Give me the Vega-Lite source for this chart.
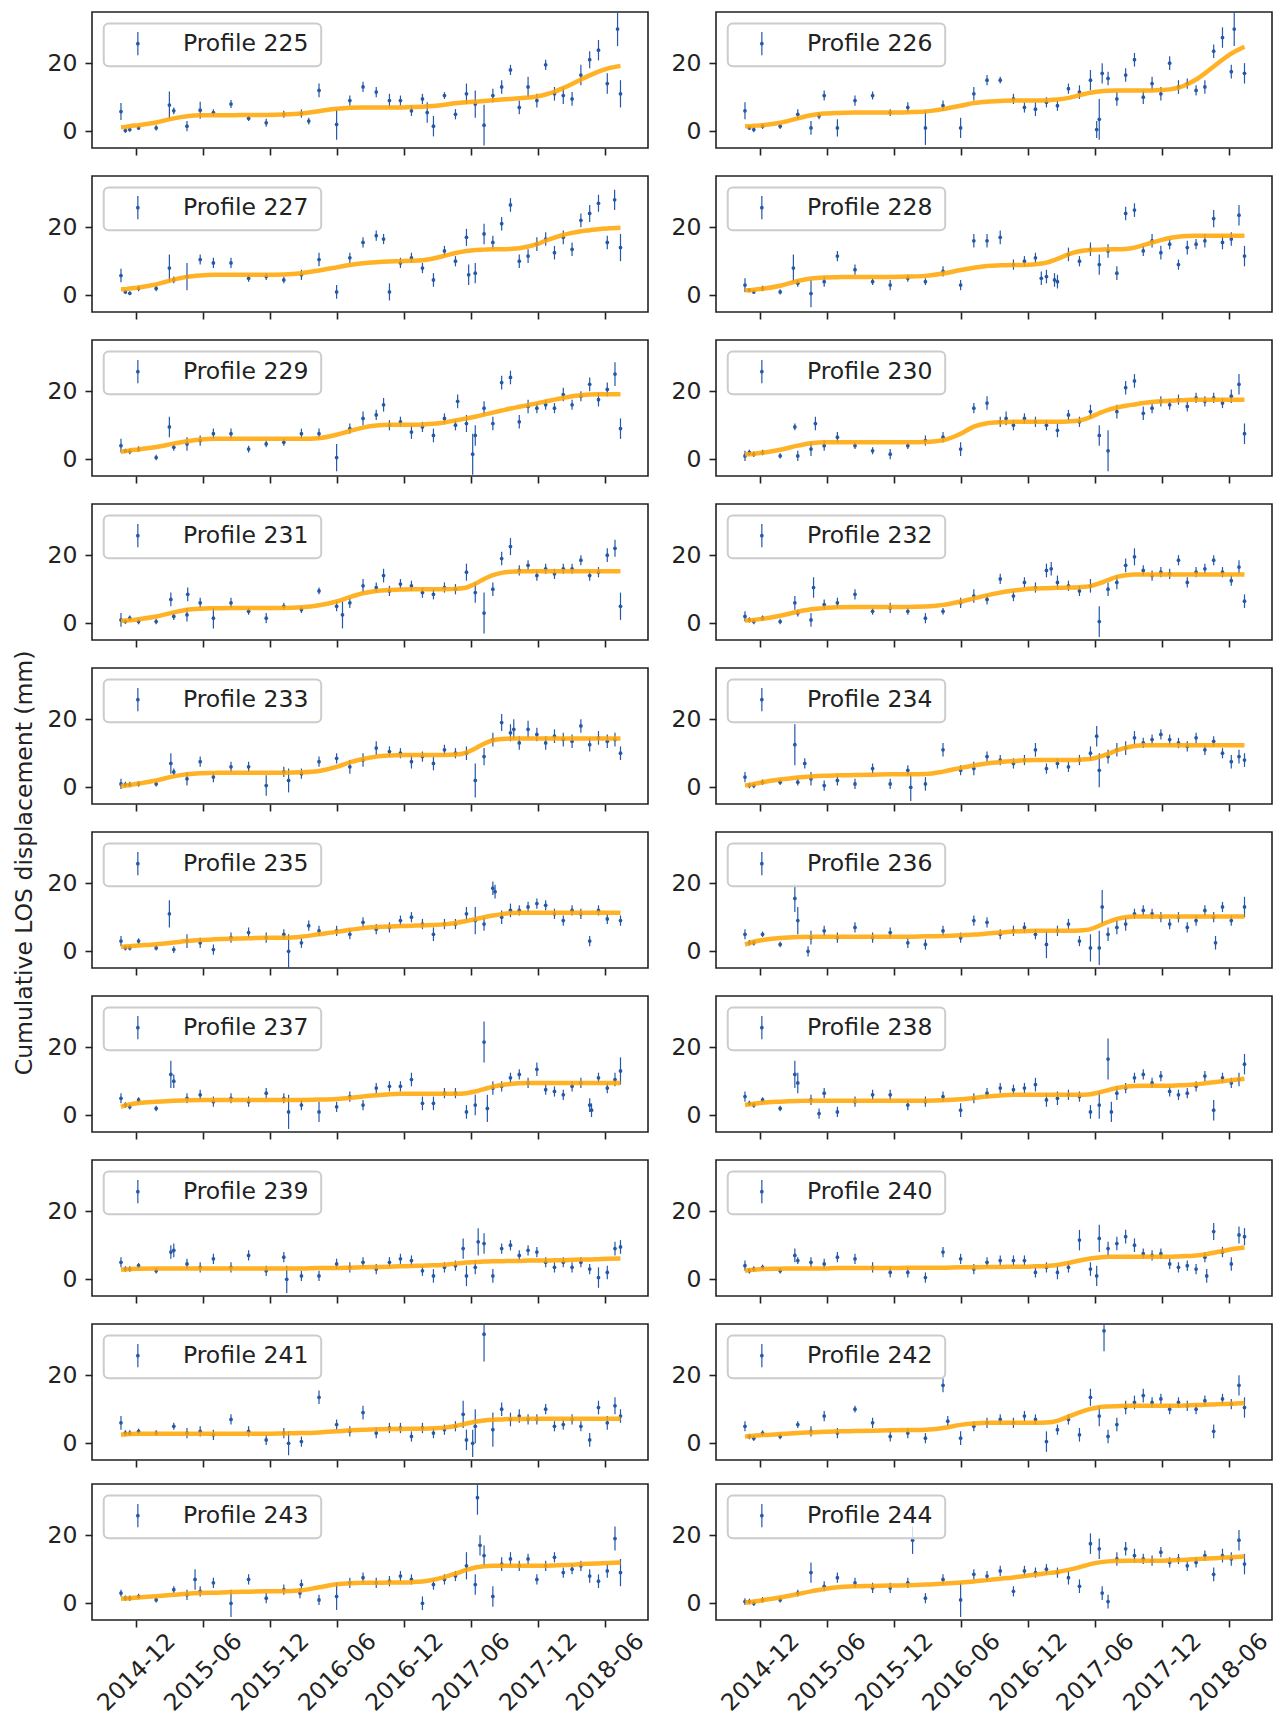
{
"$schema":"https://vega.github.io/schema/vega-lite/v6.json",
"background":"white",
"padding":{"left":12,"top":10,"right":0,"bottom":0},
"title":{"text":"Cumulative LOS displacement (mm)","orient":"left","anchor":"middle","fontSize":23.5,"fontWeight":"normal","font":"DejaVu Sans","color":"#222222","offset":10},
"datasets":{
"names":[{"p":225,"n":"Profile 225"},{"p":226,"n":"Profile 226"},{"p":227,"n":"Profile 227"},{"p":228,"n":"Profile 228"},{"p":229,"n":"Profile 229"},{"p":230,"n":"Profile 230"},{"p":231,"n":"Profile 231"},{"p":232,"n":"Profile 232"},{"p":233,"n":"Profile 233"},{"p":234,"n":"Profile 234"},{"p":235,"n":"Profile 235"},{"p":236,"n":"Profile 236"},{"p":237,"n":"Profile 237"},{"p":238,"n":"Profile 238"},{"p":239,"n":"Profile 239"},{"p":240,"n":"Profile 240"},{"p":241,"n":"Profile 241"},{"p":242,"n":"Profile 242"},{"p":243,"n":"Profile 243"},{"p":244,"n":"Profile 244"}],
"pts":[
{"p":225,"d":"2014-10-20","v":5.8,"e":2.5,"f":1.2},{"p":225,"d":"2014-11-01","v":0.2,"e":0.6,"f":1.3},{"p":225,"d":"2014-11-13","v":0.5,"e":0.6,"f":1.5},{"p":225,"d":"2014-12-07","v":1,"e":0.6,"f":1.8},{"p":225,"d":"2015-01-24","v":1,"e":0.8,"f":2.6},{"p":225,"d":"2015-03-13","v":6,"e":1,"f":3.8},{"p":225,"d":"2015-04-18","v":1.5,"e":1.5,"f":4.4},{"p":225,"d":"2015-05-24","v":6.2,"e":2.5,"f":4.7},{"p":225,"d":"2015-06-29","v":5.5,"e":1,"f":4.7},{"p":225,"d":"2015-08-16","v":8,"e":1.2,"f":4.7},{"p":225,"d":"2015-10-03","v":3.8,"e":0.8,"f":4.8},{"p":225,"d":"2015-11-20","v":2.5,"e":1.2,"f":4.8},{"p":225,"d":"2016-01-07","v":5,"e":1,"f":4.9},{"p":225,"d":"2016-02-24","v":5.2,"e":1.2,"f":5.2},{"p":225,"d":"2016-04-12","v":12,"e":2,"f":5.9},{"p":225,"d":"2016-05-30","v":2,"e":4.5,"f":6.6},{"p":225,"d":"2016-07-05","v":9,"e":1.5,"f":6.9},{"p":225,"d":"2016-08-10","v":13,"e":1.5,"f":7},{"p":225,"d":"2016-09-15","v":11.5,"e":1.5,"f":7},{"p":225,"d":"2016-10-21","v":9,"e":2,"f":7},{"p":225,"d":"2016-11-20","v":9,"e":1.5,"f":7},{"p":225,"d":"2016-12-20","v":6,"e":1.5,"f":7.1},{"p":225,"d":"2017-01-19","v":9.5,"e":1.5,"f":7.2},{"p":225,"d":"2017-02-18","v":1.5,"e":3,"f":7.4},{"p":225,"d":"2017-03-20","v":10.5,"e":1,"f":7.8},{"p":225,"d":"2017-04-19","v":5,"e":1.5,"f":8.2},{"p":225,"d":"2017-05-19","v":11,"e":3,"f":8.5},{"p":225,"d":"2017-06-12","v":8,"e":4,"f":8.7},{"p":225,"d":"2017-07-06","v":1.8,"e":6,"f":8.9},{"p":225,"d":"2017-07-30","v":10.5,"e":2,"f":9.1},{"p":225,"d":"2017-08-23","v":13,"e":2,"f":9.3},{"p":225,"d":"2017-09-16","v":18,"e":1.5,"f":9.5},{"p":225,"d":"2017-10-10","v":7,"e":2,"f":9.7},{"p":225,"d":"2017-11-03","v":13,"e":3,"f":9.9},{"p":225,"d":"2017-11-27","v":9,"e":2,"f":10.2},{"p":225,"d":"2017-12-21","v":19.5,"e":1.5,"f":10.8},{"p":225,"d":"2018-01-14","v":11,"e":2,"f":11.6},{"p":225,"d":"2018-02-07","v":10.5,"e":2.5,"f":12.7},{"p":225,"d":"2018-03-03","v":9.5,"e":2,"f":13.9},{"p":225,"d":"2018-03-27","v":16.5,"e":3,"f":15.2},{"p":225,"d":"2018-04-20","v":21,"e":2.5,"f":16.4},{"p":225,"d":"2018-05-14","v":23.8,"e":3,"f":17.5},{"p":225,"d":"2018-06-07","v":14,"e":3,"f":18.4},{"p":225,"d":"2018-07-13","v":11,"e":4,"f":19.2},
{"p":225,"d":"2018-07-05","v":30,"e":5},{"p":225,"d":"2015-03-01","v":7.7,"e":4},{"p":225,"d":"2016-03-15","v":3,"e":1},{"p":225,"d":"2017-02-01","v":5.5,"e":3},
{"p":226,"d":"2014-10-20","v":6,"e":2.5,"f":1.5},{"p":226,"d":"2014-11-01","v":1,"e":0.6,"f":1.5},{"p":226,"d":"2014-11-13","v":0.5,"e":0.8,"f":1.6},{"p":226,"d":"2014-12-07","v":1.5,"e":0.8,"f":1.8},{"p":226,"d":"2015-01-24","v":1.5,"e":0.8,"f":2.5},{"p":226,"d":"2015-03-13","v":5,"e":1.5,"f":3.8},{"p":226,"d":"2015-04-18","v":1,"e":2,"f":4.7},{"p":226,"d":"2015-05-24","v":10.5,"e":1.5,"f":5.2},{"p":226,"d":"2015-06-29","v":1,"e":2.5,"f":5.4},{"p":226,"d":"2015-08-16","v":9,"e":1.5,"f":5.5},{"p":226,"d":"2015-10-03","v":10.5,"e":1.2,"f":5.5},{"p":226,"d":"2015-11-20","v":5.5,"e":1,"f":5.5},{"p":226,"d":"2016-01-07","v":7,"e":1.5,"f":5.6},{"p":226,"d":"2016-02-24","v":1,"e":5,"f":5.8},{"p":226,"d":"2016-04-12","v":7.5,"e":1.5,"f":6.5},{"p":226,"d":"2016-05-30","v":1,"e":3,"f":7.5},{"p":226,"d":"2016-07-05","v":11,"e":2,"f":8.3},{"p":226,"d":"2016-08-10","v":15,"e":1.5,"f":8.7},{"p":226,"d":"2016-09-15","v":15,"e":1,"f":8.9},{"p":226,"d":"2016-10-21","v":9.5,"e":1.5,"f":9},{"p":226,"d":"2016-11-20","v":7,"e":1.5,"f":9},{"p":226,"d":"2016-12-20","v":6.5,"e":2,"f":9},{"p":226,"d":"2017-01-19","v":8.5,"e":1.5,"f":9.1},{"p":226,"d":"2017-02-18","v":7.5,"e":1.5,"f":9.3},{"p":226,"d":"2017-03-20","v":12.5,"e":1.5,"f":9.8},{"p":226,"d":"2017-04-19","v":11.5,"e":2,"f":10.6},{"p":226,"d":"2017-05-19","v":15,"e":3,"f":11.3},{"p":226,"d":"2017-06-12","v":3.5,"e":6,"f":11.7},{"p":226,"d":"2017-07-06","v":15.5,"e":2,"f":11.9},{"p":226,"d":"2017-07-30","v":9.5,"e":2,"f":12},{"p":226,"d":"2017-08-23","v":16.5,"e":2,"f":12},{"p":226,"d":"2017-09-16","v":21,"e":2,"f":12},{"p":226,"d":"2017-10-10","v":10,"e":2,"f":12},{"p":226,"d":"2017-11-03","v":14,"e":2,"f":12},{"p":226,"d":"2017-11-27","v":11,"e":2,"f":12.1},{"p":226,"d":"2017-12-21","v":20,"e":2,"f":12.3},{"p":226,"d":"2018-01-14","v":13,"e":2,"f":12.8},{"p":226,"d":"2018-02-07","v":14,"e":1.5,"f":13.8},{"p":226,"d":"2018-03-03","v":12,"e":1.5,"f":15.2},{"p":226,"d":"2018-03-27","v":13,"e":2,"f":17},{"p":226,"d":"2018-04-20","v":23.5,"e":2,"f":19},{"p":226,"d":"2018-05-14","v":27.5,"e":3,"f":21},{"p":226,"d":"2018-06-07","v":17.5,"e":2,"f":22.8},{"p":226,"d":"2018-07-13","v":17,"e":3,"f":24.8},
{"p":226,"d":"2017-06-05","v":0.5,"e":2.5},{"p":226,"d":"2017-06-20","v":17,"e":3},{"p":226,"d":"2018-06-15","v":30,"e":5},{"p":226,"d":"2015-05-10","v":4.5,"e":1},
{"p":227,"d":"2014-10-20","v":5.8,"e":2,"f":1.8},{"p":227,"d":"2014-11-01","v":1,"e":0.6,"f":1.8},{"p":227,"d":"2014-11-13","v":0.6,"e":0.6,"f":2},{"p":227,"d":"2014-12-07","v":2,"e":0.8,"f":2.3},{"p":227,"d":"2015-01-24","v":2,"e":0.8,"f":3.2},{"p":227,"d":"2015-03-13","v":4.5,"e":1,"f":4.6},{"p":227,"d":"2015-04-18","v":5.5,"e":4,"f":5.4},{"p":227,"d":"2015-05-24","v":10.5,"e":1.5,"f":5.8},{"p":227,"d":"2015-06-29","v":9.5,"e":1.5,"f":6},{"p":227,"d":"2015-08-16","v":9.5,"e":1.5,"f":6},{"p":227,"d":"2015-10-03","v":5,"e":1,"f":6},{"p":227,"d":"2015-11-20","v":5.5,"e":1,"f":6},{"p":227,"d":"2016-01-07","v":4.5,"e":1,"f":6.1},{"p":227,"d":"2016-02-24","v":6,"e":1.5,"f":6.5},{"p":227,"d":"2016-04-12","v":10.5,"e":2,"f":7.3},{"p":227,"d":"2016-05-30","v":1,"e":2,"f":8.2},{"p":227,"d":"2016-07-05","v":11,"e":1.5,"f":8.9},{"p":227,"d":"2016-08-10","v":15.5,"e":1.5,"f":9.4},{"p":227,"d":"2016-09-15","v":17.5,"e":1.5,"f":9.7},{"p":227,"d":"2016-10-21","v":1,"e":2.5,"f":9.9},{"p":227,"d":"2016-11-20","v":9.5,"e":1.5,"f":10},{"p":227,"d":"2016-12-20","v":11,"e":1.5,"f":10.1},{"p":227,"d":"2017-01-19","v":8,"e":1.5,"f":10.3},{"p":227,"d":"2017-02-18","v":4.5,"e":2,"f":10.8},{"p":227,"d":"2017-03-20","v":13,"e":1.5,"f":11.6},{"p":227,"d":"2017-04-19","v":10,"e":1.5,"f":12.4},{"p":227,"d":"2017-05-19","v":17,"e":2.5,"f":13},{"p":227,"d":"2017-06-12","v":6.5,"e":3,"f":13.3},{"p":227,"d":"2017-07-06","v":18,"e":3,"f":13.4},{"p":227,"d":"2017-07-30","v":15.5,"e":2,"f":13.5},{"p":227,"d":"2017-08-23","v":21,"e":2,"f":13.5},{"p":227,"d":"2017-09-16","v":26.5,"e":2,"f":13.6},{"p":227,"d":"2017-10-10","v":10,"e":2,"f":13.8},{"p":227,"d":"2017-11-03","v":11.5,"e":2,"f":14.3},{"p":227,"d":"2017-11-27","v":15,"e":2,"f":15},{"p":227,"d":"2017-12-21","v":16.5,"e":2,"f":16},{"p":227,"d":"2018-01-14","v":12.5,"e":2,"f":16.9},{"p":227,"d":"2018-02-07","v":17,"e":2,"f":17.7},{"p":227,"d":"2018-03-03","v":13.5,"e":2,"f":18.3},{"p":227,"d":"2018-03-27","v":22,"e":2,"f":18.8},{"p":227,"d":"2018-04-20","v":24,"e":2.5,"f":19.1},{"p":227,"d":"2018-05-14","v":27,"e":2.5,"f":19.4},{"p":227,"d":"2018-06-07","v":15.5,"e":2,"f":19.6},{"p":227,"d":"2018-07-13","v":14,"e":4,"f":19.8},
{"p":227,"d":"2018-06-27","v":28,"e":3},{"p":227,"d":"2017-05-25","v":6,"e":3},{"p":227,"d":"2016-10-05","v":16.5,"e":1.5},{"p":227,"d":"2015-03-01","v":8,"e":4},
{"p":228,"d":"2014-10-20","v":3,"e":2,"f":1.5},{"p":228,"d":"2014-11-01","v":1.5,"e":0.6,"f":1.5},{"p":228,"d":"2014-11-13","v":1,"e":0.6,"f":1.6},{"p":228,"d":"2014-12-07","v":2,"e":0.8,"f":1.9},{"p":228,"d":"2015-01-24","v":1,"e":0.8,"f":2.8},{"p":228,"d":"2015-03-13","v":3.5,"e":1,"f":4.2},{"p":228,"d":"2015-04-18","v":0.5,"e":4,"f":4.9},{"p":228,"d":"2015-05-24","v":4,"e":1.5,"f":5.2},{"p":228,"d":"2015-06-29","v":11.5,"e":1.5,"f":5.3},{"p":228,"d":"2015-08-16","v":7.5,"e":1.5,"f":5.4},{"p":228,"d":"2015-10-03","v":4,"e":1,"f":5.4},{"p":228,"d":"2015-11-20","v":3,"e":1.5,"f":5.4},{"p":228,"d":"2016-01-07","v":5,"e":1,"f":5.5},{"p":228,"d":"2016-02-24","v":4,"e":1,"f":5.7},{"p":228,"d":"2016-04-12","v":7,"e":1.5,"f":6.4},{"p":228,"d":"2016-05-30","v":3,"e":1.5,"f":7.4},{"p":228,"d":"2016-07-05","v":16,"e":2,"f":8.1},{"p":228,"d":"2016-08-10","v":16,"e":2,"f":8.6},{"p":228,"d":"2016-09-15","v":17,"e":2,"f":8.8},{"p":228,"d":"2016-10-21","v":9,"e":1.5,"f":8.9},{"p":228,"d":"2016-11-20","v":10,"e":1.5,"f":8.9},{"p":228,"d":"2016-12-20","v":11,"e":1.5,"f":9.1},{"p":228,"d":"2017-01-19","v":5.5,"e":2,"f":9.6},{"p":228,"d":"2017-02-18","v":4,"e":2,"f":10.7},{"p":228,"d":"2017-03-20","v":12,"e":2,"f":12},{"p":228,"d":"2017-04-19","v":10,"e":1.5,"f":12.9},{"p":228,"d":"2017-05-19","v":13.5,"e":2,"f":13.3},{"p":228,"d":"2017-06-12","v":9,"e":3,"f":13.4},{"p":228,"d":"2017-07-06","v":13,"e":2,"f":13.5},{"p":228,"d":"2017-07-30","v":6.5,"e":2,"f":13.5},{"p":228,"d":"2017-08-23","v":24,"e":2,"f":13.6},{"p":228,"d":"2017-09-16","v":25,"e":2,"f":14},{"p":228,"d":"2017-10-10","v":13,"e":1.5,"f":14.7},{"p":228,"d":"2017-11-03","v":16,"e":2,"f":15.5},{"p":228,"d":"2017-11-27","v":12.5,"e":2,"f":16.2},{"p":228,"d":"2017-12-21","v":15,"e":1.5,"f":16.8},{"p":228,"d":"2018-01-14","v":9,"e":1.5,"f":17.2},{"p":228,"d":"2018-02-07","v":14,"e":2,"f":17.4},{"p":228,"d":"2018-03-03","v":15,"e":1.5,"f":17.5},{"p":228,"d":"2018-03-27","v":16,"e":2,"f":17.5},{"p":228,"d":"2018-04-20","v":22.5,"e":2.5,"f":17.5},{"p":228,"d":"2018-05-14","v":15.5,"e":2,"f":17.5},{"p":228,"d":"2018-06-07","v":16.5,"e":2,"f":17.5},{"p":228,"d":"2018-07-13","v":11.5,"e":3,"f":17.5},
{"p":228,"d":"2018-06-28","v":23.5,"e":3},{"p":228,"d":"2017-02-10","v":4.5,"e":2},{"p":228,"d":"2015-03-01","v":8,"e":4},{"p":228,"d":"2017-01-05","v":5,"e":2},
{"p":229,"d":"2014-10-20","v":4,"e":2,"f":2.2},{"p":229,"d":"2014-11-01","v":2.5,"e":0.6,"f":2.4},{"p":229,"d":"2014-11-13","v":2.3,"e":0.8,"f":2.6},{"p":229,"d":"2014-12-07","v":3,"e":0.8,"f":2.9},{"p":229,"d":"2015-01-24","v":0.5,"e":0.8,"f":3.6},{"p":229,"d":"2015-03-13","v":3.5,"e":1,"f":4.6},{"p":229,"d":"2015-04-18","v":4.5,"e":2,"f":5.3},{"p":229,"d":"2015-05-24","v":5.5,"e":1.5,"f":5.8},{"p":229,"d":"2015-06-29","v":7.5,"e":1.5,"f":6},{"p":229,"d":"2015-08-16","v":7.5,"e":1.5,"f":6},{"p":229,"d":"2015-10-03","v":3,"e":1,"f":6},{"p":229,"d":"2015-11-20","v":4.5,"e":1,"f":6},{"p":229,"d":"2016-01-07","v":5,"e":1,"f":6},{"p":229,"d":"2016-02-24","v":7.5,"e":1.5,"f":6},{"p":229,"d":"2016-04-12","v":7.5,"e":1.5,"f":6.2},{"p":229,"d":"2016-05-30","v":0.5,"e":4,"f":7.2},{"p":229,"d":"2016-07-05","v":9,"e":1.5,"f":8.3},{"p":229,"d":"2016-08-10","v":12,"e":2,"f":9.3},{"p":229,"d":"2016-09-15","v":13,"e":1.5,"f":9.9},{"p":229,"d":"2016-10-21","v":10,"e":1.5,"f":10.1},{"p":229,"d":"2016-11-20","v":11,"e":1.5,"f":10.1},{"p":229,"d":"2016-12-20","v":8,"e":2,"f":10.1},{"p":229,"d":"2017-01-19","v":9.5,"e":1.5,"f":10.2},{"p":229,"d":"2017-02-18","v":7,"e":2,"f":10.4},{"p":229,"d":"2017-03-20","v":12,"e":1.5,"f":10.8},{"p":229,"d":"2017-04-19","v":10,"e":1.5,"f":11.4},{"p":229,"d":"2017-05-19","v":10.5,"e":2.5,"f":12},{"p":229,"d":"2017-06-12","v":7,"e":3,"f":12.5},{"p":229,"d":"2017-07-06","v":15,"e":2,"f":13.1},{"p":229,"d":"2017-07-30","v":10.5,"e":2,"f":13.7},{"p":229,"d":"2017-08-23","v":22.5,"e":2,"f":14.3},{"p":229,"d":"2017-09-16","v":24,"e":2,"f":14.9},{"p":229,"d":"2017-10-10","v":11,"e":2,"f":15.4},{"p":229,"d":"2017-11-03","v":15.5,"e":2,"f":15.9},{"p":229,"d":"2017-11-27","v":15,"e":1.5,"f":16.4},{"p":229,"d":"2017-12-21","v":16,"e":1.5,"f":17},{"p":229,"d":"2018-01-14","v":15,"e":1.5,"f":17.5},{"p":229,"d":"2018-02-07","v":19,"e":2,"f":18},{"p":229,"d":"2018-03-03","v":16,"e":1.5,"f":18.5},{"p":229,"d":"2018-03-27","v":18.5,"e":1.5,"f":18.8},{"p":229,"d":"2018-04-20","v":22,"e":2,"f":19},{"p":229,"d":"2018-05-14","v":17.5,"e":2,"f":19.1},{"p":229,"d":"2018-06-07","v":20.5,"e":2,"f":19.1},{"p":229,"d":"2018-07-13","v":9,"e":3,"f":19.1},
{"p":229,"d":"2018-06-28","v":25,"e":3.5},{"p":229,"d":"2017-06-05","v":1.5,"e":6},{"p":229,"d":"2015-03-01","v":9.5,"e":3},{"p":229,"d":"2016-10-05","v":16,"e":2},{"p":229,"d":"2017-04-25","v":17,"e":2},
{"p":230,"d":"2014-10-20","v":1,"e":1.5,"f":1.5},{"p":230,"d":"2014-11-01","v":2,"e":0.8,"f":1.5},{"p":230,"d":"2014-11-13","v":1.5,"e":0.8,"f":1.6},{"p":230,"d":"2014-12-07","v":2,"e":0.8,"f":1.9},{"p":230,"d":"2015-01-24","v":1,"e":0.8,"f":2.8},{"p":230,"d":"2015-03-13","v":1,"e":1.5,"f":4},{"p":230,"d":"2015-04-18","v":3,"e":2,"f":4.7},{"p":230,"d":"2015-05-24","v":4,"e":1.5,"f":5},{"p":230,"d":"2015-06-29","v":6.5,"e":1.5,"f":5},{"p":230,"d":"2015-08-16","v":4,"e":1,"f":5},{"p":230,"d":"2015-10-03","v":2.5,"e":1,"f":5},{"p":230,"d":"2015-11-20","v":1.5,"e":1.5,"f":5},{"p":230,"d":"2016-01-07","v":4,"e":1,"f":5},{"p":230,"d":"2016-02-24","v":5.5,"e":1.5,"f":5.1},{"p":230,"d":"2016-04-12","v":6.5,"e":1.5,"f":5.6},{"p":230,"d":"2016-05-30","v":3,"e":2,"f":7.5},{"p":230,"d":"2016-07-05","v":15,"e":1.5,"f":9.6},{"p":230,"d":"2016-08-10","v":16.5,"e":2,"f":10.6},{"p":230,"d":"2016-09-15","v":11,"e":1.5,"f":10.9},{"p":230,"d":"2016-10-21","v":10,"e":1.5,"f":11},{"p":230,"d":"2016-11-20","v":12,"e":1.5,"f":11},{"p":230,"d":"2016-12-20","v":11,"e":1.5,"f":11},{"p":230,"d":"2017-01-19","v":10,"e":1.5,"f":11},{"p":230,"d":"2017-02-18","v":8.5,"e":2,"f":11},{"p":230,"d":"2017-03-20","v":13,"e":1.5,"f":11.1},{"p":230,"d":"2017-04-19","v":11,"e":1.5,"f":11.4},{"p":230,"d":"2017-05-19","v":14,"e":2,"f":12.4},{"p":230,"d":"2017-06-12","v":7,"e":3,"f":13.5},{"p":230,"d":"2017-07-06","v":2.5,"e":6,"f":14.5},{"p":230,"d":"2017-07-30","v":14,"e":2,"f":15.2},{"p":230,"d":"2017-08-23","v":21,"e":2,"f":15.7},{"p":230,"d":"2017-09-16","v":23,"e":2,"f":16.1},{"p":230,"d":"2017-10-10","v":13.5,"e":2,"f":16.5},{"p":230,"d":"2017-11-03","v":15,"e":1.5,"f":16.8},{"p":230,"d":"2017-11-27","v":17,"e":1.5,"f":17},{"p":230,"d":"2017-12-21","v":16,"e":1.5,"f":17.2},{"p":230,"d":"2018-01-14","v":17.5,"e":1.5,"f":17.3},{"p":230,"d":"2018-02-07","v":15.5,"e":1.5,"f":17.4},{"p":230,"d":"2018-03-03","v":18,"e":1.5,"f":17.5},{"p":230,"d":"2018-03-27","v":17,"e":1.5,"f":17.5},{"p":230,"d":"2018-04-20","v":18,"e":1.5,"f":17.5},{"p":230,"d":"2018-05-14","v":16.5,"e":1.5,"f":17.5},{"p":230,"d":"2018-06-07","v":18.5,"e":2,"f":17.5},{"p":230,"d":"2018-07-13","v":7.5,"e":3,"f":17.5},
{"p":230,"d":"2018-06-28","v":22,"e":3},{"p":230,"d":"2015-03-05","v":9.5,"e":1},{"p":230,"d":"2015-04-30","v":10.5,"e":2},{"p":230,"d":"2016-10-01","v":12,"e":2},
{"p":231,"d":"2014-10-20","v":1,"e":2,"f":0.7},{"p":231,"d":"2014-11-01","v":0.5,"e":0.6,"f":0.8},{"p":231,"d":"2014-11-13","v":1.5,"e":0.8,"f":0.9},{"p":231,"d":"2014-12-07","v":0.5,"e":0.8,"f":1.2},{"p":231,"d":"2015-01-24","v":0.5,"e":0.8,"f":2},{"p":231,"d":"2015-03-13","v":2,"e":1,"f":3.2},{"p":231,"d":"2015-04-18","v":2.5,"e":2,"f":4},{"p":231,"d":"2015-05-24","v":6,"e":1.5,"f":4.3},{"p":231,"d":"2015-06-29","v":1.5,"e":3,"f":4.4},{"p":231,"d":"2015-08-16","v":6,"e":1.5,"f":4.5},{"p":231,"d":"2015-10-03","v":3.5,"e":1,"f":4.5},{"p":231,"d":"2015-11-20","v":1.5,"e":1.5,"f":4.5},{"p":231,"d":"2016-01-07","v":5,"e":1,"f":4.5},{"p":231,"d":"2016-02-24","v":4,"e":1,"f":4.7},{"p":231,"d":"2016-04-12","v":9.5,"e":1,"f":5.3},{"p":231,"d":"2016-05-30","v":5,"e":1.5,"f":6.4},{"p":231,"d":"2016-07-05","v":6,"e":1.5,"f":7.7},{"p":231,"d":"2016-08-10","v":11,"e":2,"f":8.8},{"p":231,"d":"2016-09-15","v":10.5,"e":1.5,"f":9.5},{"p":231,"d":"2016-10-21","v":9.5,"e":1.5,"f":9.8},{"p":231,"d":"2016-11-20","v":11.5,"e":1.5,"f":9.9},{"p":231,"d":"2016-12-20","v":11,"e":1.5,"f":10},{"p":231,"d":"2017-01-19","v":9,"e":1.5,"f":10},{"p":231,"d":"2017-02-18","v":8.5,"e":1.5,"f":10},{"p":231,"d":"2017-03-20","v":10.5,"e":1.5,"f":10},{"p":231,"d":"2017-04-19","v":10,"e":1.5,"f":10.1},{"p":231,"d":"2017-05-19","v":15,"e":2.5,"f":10.5},{"p":231,"d":"2017-06-12","v":9,"e":3,"f":11.6},{"p":231,"d":"2017-07-06","v":3,"e":6,"f":13},{"p":231,"d":"2017-07-30","v":10,"e":2,"f":14.1},{"p":231,"d":"2017-08-23","v":19,"e":2,"f":14.8},{"p":231,"d":"2017-09-16","v":22.5,"e":2.5,"f":15.1},{"p":231,"d":"2017-10-10","v":15.5,"e":1.5,"f":15.2},{"p":231,"d":"2017-11-03","v":17,"e":1.5,"f":15.3},{"p":231,"d":"2017-11-27","v":14,"e":1.5,"f":15.3},{"p":231,"d":"2017-12-21","v":16,"e":1.5,"f":15.3},{"p":231,"d":"2018-01-14","v":14.5,"e":1.5,"f":15.3},{"p":231,"d":"2018-02-07","v":16,"e":1.5,"f":15.3},{"p":231,"d":"2018-03-03","v":16,"e":1.5,"f":15.3},{"p":231,"d":"2018-03-27","v":18.5,"e":1.5,"f":15.3},{"p":231,"d":"2018-04-20","v":14,"e":1.5,"f":15.3},{"p":231,"d":"2018-05-14","v":15,"e":1.5,"f":15.3},{"p":231,"d":"2018-06-07","v":20,"e":2,"f":15.3},{"p":231,"d":"2018-07-13","v":5,"e":4,"f":15.3},
{"p":231,"d":"2018-06-28","v":22,"e":2.5},{"p":231,"d":"2015-03-05","v":7,"e":2},{"p":231,"d":"2015-04-20","v":8.5,"e":2},{"p":231,"d":"2016-10-05","v":14,"e":2},{"p":231,"d":"2016-06-15","v":2.5,"e":4},
{"p":232,"d":"2014-10-20","v":2,"e":1.5,"f":0.8},{"p":232,"d":"2014-11-01","v":1,"e":0.8,"f":0.9},{"p":232,"d":"2014-11-13","v":0.5,"e":0.8,"f":1},{"p":232,"d":"2014-12-07","v":1.5,"e":0.8,"f":1.3},{"p":232,"d":"2015-01-24","v":0.5,"e":0.8,"f":2.2},{"p":232,"d":"2015-03-13","v":3,"e":1,"f":3.4},{"p":232,"d":"2015-04-18","v":1,"e":2,"f":4.1},{"p":232,"d":"2015-05-24","v":5.5,"e":1.5,"f":4.5},{"p":232,"d":"2015-06-29","v":6,"e":1.5,"f":4.7},{"p":232,"d":"2015-08-16","v":8.5,"e":1.5,"f":4.8},{"p":232,"d":"2015-10-03","v":3.5,"e":1,"f":4.8},{"p":232,"d":"2015-11-20","v":4.5,"e":1.5,"f":4.8},{"p":232,"d":"2016-01-07","v":3.5,"e":1,"f":4.8},{"p":232,"d":"2016-02-24","v":1.5,"e":1.5,"f":4.9},{"p":232,"d":"2016-04-12","v":3.5,"e":1,"f":5.4},{"p":232,"d":"2016-05-30","v":6,"e":1.5,"f":6.4},{"p":232,"d":"2016-07-05","v":8,"e":2,"f":7.3},{"p":232,"d":"2016-08-10","v":7,"e":1.5,"f":8.2},{"p":232,"d":"2016-09-15","v":13,"e":1.5,"f":9},{"p":232,"d":"2016-10-21","v":8,"e":1.5,"f":9.6},{"p":232,"d":"2016-11-20","v":12,"e":1.5,"f":10},{"p":232,"d":"2016-12-20","v":10.5,"e":1.5,"f":10.2},{"p":232,"d":"2017-01-19","v":15.5,"e":2,"f":10.3},{"p":232,"d":"2017-02-18","v":12,"e":2,"f":10.4},{"p":232,"d":"2017-03-20","v":11,"e":1.5,"f":10.5},{"p":232,"d":"2017-04-19","v":9.5,"e":1.5,"f":10.6},{"p":232,"d":"2017-05-19","v":11,"e":2,"f":10.9},{"p":232,"d":"2017-06-12","v":0.5,"e":4.5,"f":11.7},{"p":232,"d":"2017-07-06","v":10,"e":2,"f":12.7},{"p":232,"d":"2017-07-30","v":12,"e":2,"f":13.6},{"p":232,"d":"2017-08-23","v":17,"e":2,"f":14.1},{"p":232,"d":"2017-09-16","v":19.5,"e":2.5,"f":14.3},{"p":232,"d":"2017-10-10","v":15.5,"e":1.5,"f":14.3},{"p":232,"d":"2017-11-03","v":14,"e":1.5,"f":14.3},{"p":232,"d":"2017-11-27","v":15,"e":1.5,"f":14.3},{"p":232,"d":"2017-12-21","v":14.5,"e":1.5,"f":14.3},{"p":232,"d":"2018-01-14","v":18.5,"e":1.5,"f":14.3},{"p":232,"d":"2018-02-07","v":12,"e":1.5,"f":14.3},{"p":232,"d":"2018-03-03","v":15,"e":1.5,"f":14.3},{"p":232,"d":"2018-03-27","v":16,"e":1.5,"f":14.3},{"p":232,"d":"2018-04-20","v":18.5,"e":1.5,"f":14.3},{"p":232,"d":"2018-05-14","v":15,"e":1.5,"f":14.3},{"p":232,"d":"2018-06-07","v":12.5,"e":1.5,"f":14.3},{"p":232,"d":"2018-07-13","v":6.5,"e":2,"f":14.3},
{"p":232,"d":"2018-06-28","v":16.5,"e":2},{"p":232,"d":"2015-03-05","v":6,"e":2},{"p":232,"d":"2015-04-25","v":10.5,"e":3},{"p":232,"d":"2017-02-01","v":16,"e":2},
{"p":233,"d":"2014-10-20","v":1,"e":1.5,"f":0.3},{"p":233,"d":"2014-11-01","v":0.8,"e":0.8,"f":0.5},{"p":233,"d":"2014-11-13","v":0.8,"e":0.8,"f":0.7},{"p":233,"d":"2014-12-07","v":1,"e":0.8,"f":1.1},{"p":233,"d":"2015-01-24","v":1,"e":0.8,"f":2},{"p":233,"d":"2015-03-13","v":4.5,"e":1,"f":3.2},{"p":233,"d":"2015-04-18","v":2.5,"e":2,"f":3.8},{"p":233,"d":"2015-05-24","v":7.5,"e":1.5,"f":4.1},{"p":233,"d":"2015-06-29","v":3,"e":1.5,"f":4.2},{"p":233,"d":"2015-08-16","v":6,"e":1.5,"f":4.3},{"p":233,"d":"2015-10-03","v":6,"e":1.5,"f":4.3},{"p":233,"d":"2015-11-20","v":0.5,"e":3,"f":4.3},{"p":233,"d":"2016-01-07","v":4.5,"e":1.5,"f":4.3},{"p":233,"d":"2016-02-24","v":4,"e":1.5,"f":4.4},{"p":233,"d":"2016-04-12","v":7.5,"e":1.5,"f":4.8},{"p":233,"d":"2016-05-30","v":8.5,"e":1.5,"f":6},{"p":233,"d":"2016-07-05","v":6,"e":2,"f":7.3},{"p":233,"d":"2016-08-10","v":8,"e":2,"f":8.3},{"p":233,"d":"2016-09-15","v":11.5,"e":2,"f":9},{"p":233,"d":"2016-10-21","v":10.5,"e":1.5,"f":9.3},{"p":233,"d":"2016-11-20","v":10,"e":1.5,"f":9.4},{"p":233,"d":"2016-12-20","v":7.5,"e":2,"f":9.5},{"p":233,"d":"2017-01-19","v":9,"e":1.5,"f":9.5},{"p":233,"d":"2017-02-18","v":7,"e":2,"f":9.5},{"p":233,"d":"2017-03-20","v":11,"e":1.5,"f":9.5},{"p":233,"d":"2017-04-19","v":10,"e":1.5,"f":9.6},{"p":233,"d":"2017-05-19","v":10,"e":2,"f":10.2},{"p":233,"d":"2017-06-12","v":2,"e":5,"f":11.4},{"p":233,"d":"2017-07-06","v":9,"e":2.5,"f":12.8},{"p":233,"d":"2017-07-30","v":14,"e":2,"f":13.8},{"p":233,"d":"2017-08-23","v":19,"e":2.5,"f":14.2},{"p":233,"d":"2017-09-16","v":16,"e":2.5,"f":14.3},{"p":233,"d":"2017-10-10","v":13,"e":2,"f":14.3},{"p":233,"d":"2017-11-03","v":17,"e":2.5,"f":14.3},{"p":233,"d":"2017-11-27","v":15.5,"e":2,"f":14.3},{"p":233,"d":"2017-12-21","v":13,"e":2,"f":14.3},{"p":233,"d":"2018-01-14","v":15,"e":2,"f":14.3},{"p":233,"d":"2018-02-07","v":14,"e":2,"f":14.3},{"p":233,"d":"2018-03-03","v":13.5,"e":2,"f":14.3},{"p":233,"d":"2018-03-27","v":18,"e":2,"f":14.3},{"p":233,"d":"2018-04-20","v":12.5,"e":2,"f":14.3},{"p":233,"d":"2018-05-14","v":14.5,"e":2,"f":14.3},{"p":233,"d":"2018-06-07","v":13.5,"e":2,"f":14.3},{"p":233,"d":"2018-07-13","v":10,"e":2,"f":14.3},
{"p":233,"d":"2015-03-05","v":7,"e":3},{"p":233,"d":"2016-01-20","v":2,"e":3.5},{"p":233,"d":"2018-06-28","v":14,"e":2},{"p":233,"d":"2017-09-25","v":17,"e":3},
{"p":234,"d":"2014-10-20","v":3,"e":1.5,"f":0.5},{"p":234,"d":"2014-11-01","v":0.5,"e":0.8,"f":0.7},{"p":234,"d":"2014-11-13","v":0.5,"e":0.8,"f":1},{"p":234,"d":"2014-12-07","v":1.5,"e":0.8,"f":1.5},{"p":234,"d":"2015-01-24","v":1.5,"e":0.8,"f":2.3},{"p":234,"d":"2015-03-13","v":1.5,"e":1,"f":2.9},{"p":234,"d":"2015-04-18","v":2.5,"e":2,"f":3.2},{"p":234,"d":"2015-05-24","v":0.5,"e":1.5,"f":3.4},{"p":234,"d":"2015-06-29","v":2,"e":1.5,"f":3.5},{"p":234,"d":"2015-08-16","v":1,"e":1.5,"f":3.6},{"p":234,"d":"2015-10-03","v":5.5,"e":1.5,"f":3.7},{"p":234,"d":"2015-11-20","v":1,"e":1.5,"f":3.8},{"p":234,"d":"2016-01-07","v":5,"e":1.5,"f":3.8},{"p":234,"d":"2016-02-24","v":1,"e":2,"f":3.9},{"p":234,"d":"2016-04-12","v":11,"e":2,"f":4.6},{"p":234,"d":"2016-05-30","v":5,"e":1.5,"f":5.7},{"p":234,"d":"2016-07-05","v":5.5,"e":2,"f":6.4},{"p":234,"d":"2016-08-10","v":9,"e":1.5,"f":7},{"p":234,"d":"2016-09-15","v":8,"e":1.5,"f":7.4},{"p":234,"d":"2016-10-21","v":7,"e":1.5,"f":7.7},{"p":234,"d":"2016-11-20","v":8,"e":1.5,"f":7.9},{"p":234,"d":"2016-12-20","v":11,"e":2,"f":8},{"p":234,"d":"2017-01-19","v":5.5,"e":1.5,"f":8},{"p":234,"d":"2017-02-18","v":7,"e":1.5,"f":8},{"p":234,"d":"2017-03-20","v":6,"e":1.5,"f":8},{"p":234,"d":"2017-04-19","v":8,"e":1.5,"f":8.1},{"p":234,"d":"2017-05-19","v":10,"e":2,"f":8.3},{"p":234,"d":"2017-06-12","v":5,"e":5,"f":8.9},{"p":234,"d":"2017-07-06","v":9,"e":2,"f":9.8},{"p":234,"d":"2017-07-30","v":11,"e":2,"f":10.8},{"p":234,"d":"2017-08-23","v":11.5,"e":2,"f":11.6},{"p":234,"d":"2017-09-16","v":14.5,"e":2,"f":12.1},{"p":234,"d":"2017-10-10","v":13,"e":1.5,"f":12.3},{"p":234,"d":"2017-11-03","v":14,"e":1.5,"f":12.3},{"p":234,"d":"2017-11-27","v":15.5,"e":1.5,"f":12.3},{"p":234,"d":"2017-12-21","v":14,"e":1.5,"f":12.3},{"p":234,"d":"2018-01-14","v":13,"e":1.5,"f":12.3},{"p":234,"d":"2018-02-07","v":12,"e":1.5,"f":12.3},{"p":234,"d":"2018-03-03","v":14.5,"e":1.5,"f":12.3},{"p":234,"d":"2018-03-27","v":11,"e":1.5,"f":12.3},{"p":234,"d":"2018-04-20","v":13.5,"e":1.5,"f":12.3},{"p":234,"d":"2018-05-14","v":10,"e":1.5,"f":12.3},{"p":234,"d":"2018-06-07","v":7.5,"e":2,"f":12.3},{"p":234,"d":"2018-07-13","v":8,"e":2,"f":12.3},
{"p":234,"d":"2015-03-05","v":12.5,"e":6},{"p":234,"d":"2015-04-01","v":7,"e":1.5},{"p":234,"d":"2017-06-05","v":15,"e":3},{"p":234,"d":"2016-01-15","v":0,"e":4},{"p":234,"d":"2018-06-28","v":9,"e":2},
{"p":235,"d":"2014-10-20","v":3,"e":1.5,"f":1.3},{"p":235,"d":"2014-11-01","v":1,"e":0.8,"f":1.4},{"p":235,"d":"2014-11-13","v":1,"e":0.8,"f":1.5},{"p":235,"d":"2014-12-07","v":3,"e":0.8,"f":1.7},{"p":235,"d":"2015-01-24","v":1,"e":0.8,"f":2.1},{"p":235,"d":"2015-03-13","v":0.5,"e":1,"f":2.6},{"p":235,"d":"2015-04-18","v":3,"e":2,"f":3},{"p":235,"d":"2015-05-24","v":2.5,"e":1.5,"f":3.3},{"p":235,"d":"2015-06-29","v":0.5,"e":1.5,"f":3.5},{"p":235,"d":"2015-08-16","v":4,"e":1.5,"f":3.7},{"p":235,"d":"2015-10-03","v":5.5,"e":1.5,"f":3.8},{"p":235,"d":"2015-11-20","v":4,"e":1.5,"f":4},{"p":235,"d":"2016-01-07","v":5,"e":1.5,"f":4},{"p":235,"d":"2016-02-24","v":2.5,"e":1.5,"f":4.3},{"p":235,"d":"2016-04-12","v":6,"e":1.5,"f":5},{"p":235,"d":"2016-05-30","v":6,"e":1.5,"f":5.7},{"p":235,"d":"2016-07-05","v":5,"e":1.5,"f":6.3},{"p":235,"d":"2016-08-10","v":8.5,"e":1.5,"f":6.8},{"p":235,"d":"2016-09-15","v":6.5,"e":1.5,"f":7.1},{"p":235,"d":"2016-10-21","v":7,"e":1.5,"f":7.3},{"p":235,"d":"2016-11-20","v":9,"e":1.5,"f":7.4},{"p":235,"d":"2016-12-20","v":10,"e":1.5,"f":7.5},{"p":235,"d":"2017-01-19","v":8,"e":1.5,"f":7.6},{"p":235,"d":"2017-02-18","v":5,"e":2,"f":7.7},{"p":235,"d":"2017-03-20","v":8,"e":1.5,"f":7.9},{"p":235,"d":"2017-04-19","v":8,"e":1.5,"f":8.3},{"p":235,"d":"2017-05-19","v":11,"e":2,"f":8.9},{"p":235,"d":"2017-06-12","v":9,"e":4,"f":9.4},{"p":235,"d":"2017-07-06","v":8,"e":2,"f":10},{"p":235,"d":"2017-07-30","v":18.5,"e":2,"f":10.5},{"p":235,"d":"2017-08-23","v":10,"e":2,"f":10.9},{"p":235,"d":"2017-09-16","v":12,"e":2,"f":11.2},{"p":235,"d":"2017-10-10","v":12,"e":1.5,"f":11.3},{"p":235,"d":"2017-11-03","v":13,"e":1.5,"f":11.3},{"p":235,"d":"2017-11-27","v":14,"e":1.5,"f":11.3},{"p":235,"d":"2017-12-21","v":13.5,"e":1.5,"f":11.3},{"p":235,"d":"2018-01-14","v":11,"e":1.5,"f":11.3},{"p":235,"d":"2018-02-07","v":9,"e":1.5,"f":11.3},{"p":235,"d":"2018-03-03","v":12,"e":1.5,"f":11.3},{"p":235,"d":"2018-03-27","v":11,"e":1.5,"f":11.3},{"p":235,"d":"2018-04-20","v":3,"e":1.5,"f":11.3},{"p":235,"d":"2018-05-14","v":12,"e":1.5,"f":11.3},{"p":235,"d":"2018-06-07","v":9.5,"e":1.5,"f":11.3},{"p":235,"d":"2018-07-13","v":9,"e":1.5,"f":11.3},
{"p":235,"d":"2015-03-01","v":11,"e":4},{"p":235,"d":"2016-01-20","v":0,"e":5},{"p":235,"d":"2017-08-05","v":17.5,"e":2},{"p":235,"d":"2016-03-15","v":7.5,"e":1.5},
{"p":236,"d":"2014-10-20","v":5,"e":1.5,"f":2},{"p":236,"d":"2014-11-01","v":2.5,"e":0.8,"f":2.4},{"p":236,"d":"2014-11-13","v":2.5,"e":0.8,"f":2.8},{"p":236,"d":"2014-12-07","v":5,"e":0.8,"f":3.3},{"p":236,"d":"2015-01-24","v":2,"e":0.8,"f":3.9},{"p":236,"d":"2015-03-13","v":9,"e":4,"f":4.2},{"p":236,"d":"2015-04-18","v":4,"e":2,"f":4.3},{"p":236,"d":"2015-05-24","v":6,"e":1.5,"f":4.3},{"p":236,"d":"2015-06-29","v":4,"e":1.5,"f":4.3},{"p":236,"d":"2015-08-16","v":7,"e":1.5,"f":4.3},{"p":236,"d":"2015-10-03","v":4,"e":1.5,"f":4.3},{"p":236,"d":"2015-11-20","v":5.5,"e":1.5,"f":4.3},{"p":236,"d":"2016-01-07","v":2.5,"e":1.5,"f":4.3},{"p":236,"d":"2016-02-24","v":2,"e":1.5,"f":4.4},{"p":236,"d":"2016-04-12","v":6,"e":1.5,"f":4.5},{"p":236,"d":"2016-05-30","v":4,"e":1.5,"f":4.7},{"p":236,"d":"2016-07-05","v":9,"e":1.5,"f":4.9},{"p":236,"d":"2016-08-10","v":8.5,"e":1.5,"f":5.2},{"p":236,"d":"2016-09-15","v":5,"e":1.5,"f":5.5},{"p":236,"d":"2016-10-21","v":6,"e":1.5,"f":5.8},{"p":236,"d":"2016-11-20","v":7,"e":1.5,"f":5.9},{"p":236,"d":"2016-12-20","v":5,"e":1.5,"f":6},{"p":236,"d":"2017-01-19","v":2,"e":4,"f":6},{"p":236,"d":"2017-02-18","v":6,"e":1.5,"f":6},{"p":236,"d":"2017-03-20","v":8,"e":1.5,"f":6},{"p":236,"d":"2017-04-19","v":3,"e":1.5,"f":6.1},{"p":236,"d":"2017-05-19","v":1,"e":4,"f":6.5},{"p":236,"d":"2017-06-12","v":1,"e":5,"f":7.5},{"p":236,"d":"2017-07-06","v":5,"e":2,"f":8.6},{"p":236,"d":"2017-07-30","v":7,"e":2,"f":9.5},{"p":236,"d":"2017-08-23","v":8,"e":2,"f":10},{"p":236,"d":"2017-09-16","v":11,"e":1.5,"f":10.2},{"p":236,"d":"2017-10-10","v":12,"e":1.5,"f":10.2},{"p":236,"d":"2017-11-03","v":11,"e":1.5,"f":10.2},{"p":236,"d":"2017-11-27","v":10,"e":1.5,"f":10.2},{"p":236,"d":"2017-12-21","v":8,"e":1.5,"f":10.2},{"p":236,"d":"2018-01-14","v":10,"e":1.5,"f":10.2},{"p":236,"d":"2018-02-07","v":7,"e":1.5,"f":10.2},{"p":236,"d":"2018-03-03","v":9,"e":1.5,"f":10.2},{"p":236,"d":"2018-03-27","v":12,"e":1.5,"f":10.2},{"p":236,"d":"2018-04-20","v":10,"e":1.5,"f":10.2},{"p":236,"d":"2018-05-14","v":13,"e":1.5,"f":10.2},{"p":236,"d":"2018-06-07","v":9,"e":1.5,"f":10.2},{"p":236,"d":"2018-07-13","v":13,"e":3,"f":10.2},
{"p":236,"d":"2015-03-05","v":15.5,"e":4},{"p":236,"d":"2015-04-10","v":0,"e":1.5},{"p":236,"d":"2018-04-25","v":2.5,"e":2},{"p":236,"d":"2017-06-20","v":13,"e":5},
{"p":237,"d":"2014-10-20","v":5,"e":1.5,"f":2.5},{"p":237,"d":"2014-11-01","v":3,"e":0.8,"f":2.9},{"p":237,"d":"2014-11-13","v":2.5,"e":0.8,"f":3.2},{"p":237,"d":"2014-12-07","v":4.5,"e":0.8,"f":3.6},{"p":237,"d":"2015-01-24","v":2,"e":0.8,"f":4},{"p":237,"d":"2015-03-13","v":10,"e":2,"f":4.3},{"p":237,"d":"2015-04-18","v":5,"e":1.5,"f":4.4},{"p":237,"d":"2015-05-24","v":6,"e":1.5,"f":4.5},{"p":237,"d":"2015-06-29","v":4,"e":1.5,"f":4.5},{"p":237,"d":"2015-08-16","v":5,"e":1.5,"f":4.5},{"p":237,"d":"2015-10-03","v":4,"e":1.5,"f":4.5},{"p":237,"d":"2015-11-20","v":6.5,"e":1.5,"f":4.5},{"p":237,"d":"2016-01-07","v":5,"e":1.5,"f":4.5},{"p":237,"d":"2016-02-24","v":3,"e":1.5,"f":4.5},{"p":237,"d":"2016-04-12","v":1,"e":3,"f":4.6},{"p":237,"d":"2016-05-30","v":2.5,"e":1.5,"f":4.8},{"p":237,"d":"2016-07-05","v":5.5,"e":1.5,"f":5.1},{"p":237,"d":"2016-08-10","v":3,"e":1.5,"f":5.5},{"p":237,"d":"2016-09-15","v":8,"e":1.5,"f":5.9},{"p":237,"d":"2016-10-21","v":8.5,"e":1.5,"f":6.2},{"p":237,"d":"2016-11-20","v":8.5,"e":1.5,"f":6.3},{"p":237,"d":"2016-12-20","v":10.5,"e":2,"f":6.3},{"p":237,"d":"2017-01-19","v":3.5,"e":2,"f":6.3},{"p":237,"d":"2017-02-18","v":3.5,"e":2,"f":6.3},{"p":237,"d":"2017-03-20","v":6.5,"e":1.5,"f":6.3},{"p":237,"d":"2017-04-19","v":6.5,"e":1.5,"f":6.3},{"p":237,"d":"2017-05-19","v":1,"e":2,"f":6.5},{"p":237,"d":"2017-06-12","v":3,"e":3,"f":7},{"p":237,"d":"2017-07-06","v":21.5,"e":6,"f":7.7},{"p":237,"d":"2017-07-30","v":8,"e":2,"f":8.4},{"p":237,"d":"2017-08-23","v":8.5,"e":1.5,"f":8.9},{"p":237,"d":"2017-09-16","v":11,"e":1.5,"f":9.2},{"p":237,"d":"2017-10-10","v":12,"e":1.5,"f":9.4},{"p":237,"d":"2017-11-03","v":9.5,"e":1.5,"f":9.5},{"p":237,"d":"2017-11-27","v":13.5,"e":2,"f":9.5},{"p":237,"d":"2017-12-21","v":7.5,"e":1.5,"f":9.5},{"p":237,"d":"2018-01-14","v":7,"e":1.5,"f":9.5},{"p":237,"d":"2018-02-07","v":6,"e":1.5,"f":9.5},{"p":237,"d":"2018-03-03","v":8.5,"e":1.5,"f":9.5},{"p":237,"d":"2018-03-27","v":9.5,"e":1.5,"f":9.5},{"p":237,"d":"2018-04-20","v":3,"e":2,"f":9.5},{"p":237,"d":"2018-05-14","v":11,"e":1.5,"f":9.5},{"p":237,"d":"2018-06-07","v":8,"e":1.5,"f":9.5},{"p":237,"d":"2018-07-13","v":13,"e":4,"f":9.5},
{"p":237,"d":"2015-03-05","v":12,"e":4},{"p":237,"d":"2016-01-20","v":1,"e":5},{"p":237,"d":"2017-07-15","v":2,"e":4},{"p":237,"d":"2018-04-25","v":1.5,"e":2},{"p":237,"d":"2018-06-28","v":10.5,"e":2},
{"p":238,"d":"2014-10-20","v":5.5,"e":1.5,"f":3},{"p":238,"d":"2014-11-01","v":3.5,"e":0.8,"f":3.2},{"p":238,"d":"2014-11-13","v":3,"e":0.8,"f":3.4},{"p":238,"d":"2014-12-07","v":4.5,"e":0.8,"f":3.7},{"p":238,"d":"2015-01-24","v":2,"e":0.8,"f":4},{"p":238,"d":"2015-03-13","v":9.5,"e":3,"f":4.2},{"p":238,"d":"2015-04-18","v":4.5,"e":1.5,"f":4.3},{"p":238,"d":"2015-05-24","v":6.5,"e":1.5,"f":4.3},{"p":238,"d":"2015-06-29","v":1,"e":1.5,"f":4.3},{"p":238,"d":"2015-08-16","v":4,"e":1.5,"f":4.3},{"p":238,"d":"2015-10-03","v":6,"e":1.5,"f":4.3},{"p":238,"d":"2015-11-20","v":6,"e":1.5,"f":4.3},{"p":238,"d":"2016-01-07","v":3,"e":1.5,"f":4.3},{"p":238,"d":"2016-02-24","v":4,"e":1.5,"f":4.3},{"p":238,"d":"2016-04-12","v":5.5,"e":1.5,"f":4.4},{"p":238,"d":"2016-05-30","v":1.5,"e":2,"f":4.7},{"p":238,"d":"2016-07-05","v":5,"e":1.5,"f":5.1},{"p":238,"d":"2016-08-10","v":6.5,"e":1.5,"f":5.5},{"p":238,"d":"2016-09-15","v":8,"e":1.5,"f":5.8},{"p":238,"d":"2016-10-21","v":7.5,"e":1.5,"f":6},{"p":238,"d":"2016-11-20","v":8,"e":1.5,"f":6},{"p":238,"d":"2016-12-20","v":9,"e":2,"f":6},{"p":238,"d":"2017-01-19","v":4.5,"e":2,"f":6},{"p":238,"d":"2017-02-18","v":5,"e":2,"f":6},{"p":238,"d":"2017-03-20","v":6,"e":1.5,"f":6},{"p":238,"d":"2017-04-19","v":5.5,"e":1.5,"f":6},{"p":238,"d":"2017-05-19","v":1,"e":2,"f":6.2},{"p":238,"d":"2017-06-12","v":3,"e":4,"f":6.7},{"p":238,"d":"2017-07-06","v":16.5,"e":6,"f":7.4},{"p":238,"d":"2017-07-30","v":6.5,"e":2,"f":8},{"p":238,"d":"2017-08-23","v":8,"e":1.5,"f":8.4},{"p":238,"d":"2017-09-16","v":11,"e":1.5,"f":8.6},{"p":238,"d":"2017-10-10","v":12,"e":1.5,"f":8.7},{"p":238,"d":"2017-11-03","v":9.5,"e":1.5,"f":8.7},{"p":238,"d":"2017-11-27","v":11.5,"e":1.5,"f":8.7},{"p":238,"d":"2017-12-21","v":7,"e":1.5,"f":8.7},{"p":238,"d":"2018-01-14","v":6,"e":1.5,"f":8.8},{"p":238,"d":"2018-02-07","v":6.5,"e":1.5,"f":8.9},{"p":238,"d":"2018-03-03","v":8.5,"e":1.5,"f":9.1},{"p":238,"d":"2018-03-27","v":11.5,"e":1.5,"f":9.4},{"p":238,"d":"2018-04-20","v":1.5,"e":3,"f":9.7},{"p":238,"d":"2018-05-14","v":11,"e":1.5,"f":10},{"p":238,"d":"2018-06-07","v":9.5,"e":1.5,"f":10.3},{"p":238,"d":"2018-07-13","v":15,"e":3,"f":10.7},
{"p":238,"d":"2015-03-05","v":12,"e":4},{"p":238,"d":"2017-07-15","v":1,"e":3},{"p":238,"d":"2018-06-28","v":10.5,"e":2},{"p":238,"d":"2015-05-10","v":0.5,"e":1.5},
{"p":239,"d":"2014-10-20","v":5,"e":1.5,"f":2.8},{"p":239,"d":"2014-11-01","v":3,"e":0.8,"f":2.9},{"p":239,"d":"2014-11-13","v":3,"e":0.8,"f":3},{"p":239,"d":"2014-12-07","v":4,"e":0.8,"f":3.1},{"p":239,"d":"2015-01-24","v":2.5,"e":0.8,"f":3.2},{"p":239,"d":"2015-03-13","v":8.5,"e":2,"f":3.2},{"p":239,"d":"2015-04-18","v":4.5,"e":1.5,"f":3.2},{"p":239,"d":"2015-05-24","v":3.5,"e":1.5,"f":3.2},{"p":239,"d":"2015-06-29","v":6,"e":1.5,"f":3.2},{"p":239,"d":"2015-08-16","v":3.5,"e":1.5,"f":3.2},{"p":239,"d":"2015-10-03","v":7,"e":1.5,"f":3.2},{"p":239,"d":"2015-11-20","v":2.5,"e":1.5,"f":3.2},{"p":239,"d":"2016-01-07","v":6.5,"e":1.5,"f":3.2},{"p":239,"d":"2016-02-24","v":1,"e":1.5,"f":3.2},{"p":239,"d":"2016-04-12","v":1,"e":1.5,"f":3.3},{"p":239,"d":"2016-05-30","v":4.5,"e":1.5,"f":3.3},{"p":239,"d":"2016-07-05","v":3.5,"e":1.5,"f":3.4},{"p":239,"d":"2016-08-10","v":5,"e":1.5,"f":3.5},{"p":239,"d":"2016-09-15","v":3,"e":1.5,"f":3.6},{"p":239,"d":"2016-10-21","v":5,"e":1.5,"f":3.7},{"p":239,"d":"2016-11-20","v":6,"e":1.5,"f":3.8},{"p":239,"d":"2016-12-20","v":5.5,"e":1.5,"f":3.9},{"p":239,"d":"2017-01-19","v":2.5,"e":1.5,"f":4},{"p":239,"d":"2017-02-18","v":1,"e":2,"f":4.1},{"p":239,"d":"2017-03-20","v":3.5,"e":1.5,"f":4.3},{"p":239,"d":"2017-04-19","v":4,"e":1.5,"f":4.6},{"p":239,"d":"2017-05-19","v":1,"e":3,"f":4.9},{"p":239,"d":"2017-06-12","v":3.5,"e":2,"f":5.1},{"p":239,"d":"2017-07-06","v":10.5,"e":3,"f":5.2},{"p":239,"d":"2017-07-30","v":1,"e":2,"f":5.3},{"p":239,"d":"2017-08-23","v":9,"e":1.5,"f":5.3},{"p":239,"d":"2017-09-16","v":10,"e":1.5,"f":5.4},{"p":239,"d":"2017-10-10","v":7,"e":1.5,"f":5.4},{"p":239,"d":"2017-11-03","v":8.5,"e":1.5,"f":5.5},{"p":239,"d":"2017-11-27","v":8,"e":1.5,"f":5.5},{"p":239,"d":"2017-12-21","v":5,"e":1.5,"f":5.5},{"p":239,"d":"2018-01-14","v":3.5,"e":1.5,"f":5.6},{"p":239,"d":"2018-02-07","v":5,"e":1.5,"f":5.6},{"p":239,"d":"2018-03-03","v":3.5,"e":1.5,"f":5.7},{"p":239,"d":"2018-03-27","v":5,"e":1.5,"f":5.8},{"p":239,"d":"2018-04-20","v":3,"e":1.5,"f":5.8},{"p":239,"d":"2018-05-14","v":0.5,"e":3,"f":5.9},{"p":239,"d":"2018-06-07","v":2,"e":2,"f":6},{"p":239,"d":"2018-07-13","v":9.5,"e":2,"f":6.1},
{"p":239,"d":"2015-03-05","v":8,"e":2},{"p":239,"d":"2016-01-15","v":0,"e":4},{"p":239,"d":"2017-05-10","v":9,"e":3},{"p":239,"d":"2018-06-28","v":9,"e":2},{"p":239,"d":"2017-06-20","v":11,"e":4},
{"p":240,"d":"2014-10-20","v":4,"e":1.5,"f":2.5},{"p":240,"d":"2014-11-01","v":2.5,"e":0.8,"f":2.7},{"p":240,"d":"2014-11-13","v":3,"e":0.8,"f":2.8},{"p":240,"d":"2014-12-07","v":3.5,"e":0.8,"f":3},{"p":240,"d":"2015-01-24","v":2.5,"e":0.8,"f":3.1},{"p":240,"d":"2015-03-13","v":5.5,"e":1,"f":3.2},{"p":240,"d":"2015-04-18","v":5,"e":1.5,"f":3.2},{"p":240,"d":"2015-05-24","v":4.5,"e":1.5,"f":3.2},{"p":240,"d":"2015-06-29","v":6.5,"e":1.5,"f":3.3},{"p":240,"d":"2015-08-16","v":6,"e":1.5,"f":3.3},{"p":240,"d":"2015-10-03","v":3.5,"e":1.5,"f":3.3},{"p":240,"d":"2015-11-20","v":2,"e":1.5,"f":3.3},{"p":240,"d":"2016-01-07","v":2,"e":1.5,"f":3.4},{"p":240,"d":"2016-02-24","v":0.5,"e":1.5,"f":3.4},{"p":240,"d":"2016-04-12","v":8,"e":1.5,"f":3.4},{"p":240,"d":"2016-05-30","v":6,"e":1.5,"f":3.5},{"p":240,"d":"2016-07-05","v":3,"e":1.5,"f":3.5},{"p":240,"d":"2016-08-10","v":5,"e":1.5,"f":3.6},{"p":240,"d":"2016-09-15","v":5.5,"e":1.5,"f":3.6},{"p":240,"d":"2016-10-21","v":5.5,"e":1.5,"f":3.7},{"p":240,"d":"2016-11-20","v":5.5,"e":1.5,"f":3.7},{"p":240,"d":"2016-12-20","v":2,"e":1.5,"f":3.8},{"p":240,"d":"2017-01-19","v":3.5,"e":1.5,"f":3.9},{"p":240,"d":"2017-02-18","v":2,"e":2,"f":4.2},{"p":240,"d":"2017-03-20","v":3.5,"e":1.5,"f":4.8},{"p":240,"d":"2017-04-19","v":11.5,"e":3,"f":5.5},{"p":240,"d":"2017-05-19","v":3,"e":2,"f":6.1},{"p":240,"d":"2017-06-12","v":12,"e":4,"f":6.4},{"p":240,"d":"2017-07-06","v":9,"e":2,"f":6.6},{"p":240,"d":"2017-07-30","v":10.5,"e":2,"f":6.6},{"p":240,"d":"2017-08-23","v":12.5,"e":2,"f":6.6},{"p":240,"d":"2017-09-16","v":10,"e":2,"f":6.6},{"p":240,"d":"2017-10-10","v":7.5,"e":1.5,"f":6.6},{"p":240,"d":"2017-11-03","v":7,"e":1.5,"f":6.6},{"p":240,"d":"2017-11-27","v":7.5,"e":1.5,"f":6.6},{"p":240,"d":"2017-12-21","v":4.5,"e":1.5,"f":6.6},{"p":240,"d":"2018-01-14","v":3.5,"e":1.5,"f":6.7},{"p":240,"d":"2018-02-07","v":4,"e":1.5,"f":6.8},{"p":240,"d":"2018-03-03","v":3,"e":1.5,"f":7},{"p":240,"d":"2018-03-27","v":6.5,"e":1.5,"f":7.3},{"p":240,"d":"2018-04-20","v":14,"e":2.5,"f":7.8},{"p":240,"d":"2018-05-14","v":8,"e":1.5,"f":8.3},{"p":240,"d":"2018-06-07","v":4.5,"e":2,"f":8.8},{"p":240,"d":"2018-07-13","v":12.5,"e":2.5,"f":9.3},
{"p":240,"d":"2015-03-05","v":7,"e":2},{"p":240,"d":"2017-06-05","v":1,"e":3},{"p":240,"d":"2018-04-01","v":1,"e":2},{"p":240,"d":"2018-06-28","v":13,"e":2.5},
{"p":241,"d":"2014-10-20","v":6,"e":2,"f":2.5},{"p":241,"d":"2014-11-01","v":3,"e":0.8,"f":2.6},{"p":241,"d":"2014-11-13","v":3,"e":0.8,"f":2.7},{"p":241,"d":"2014-12-07","v":3.5,"e":0.8,"f":2.8},{"p":241,"d":"2015-01-24","v":3,"e":0.8,"f":2.8},{"p":241,"d":"2015-03-13","v":5,"e":1,"f":2.8},{"p":241,"d":"2015-04-18","v":3,"e":1.5,"f":2.8},{"p":241,"d":"2015-05-24","v":3.5,"e":1.5,"f":2.8},{"p":241,"d":"2015-06-29","v":2.5,"e":1.5,"f":2.8},{"p":241,"d":"2015-08-16","v":7,"e":1.5,"f":2.8},{"p":241,"d":"2015-10-03","v":3.5,"e":1.5,"f":2.8},{"p":241,"d":"2015-11-20","v":1,"e":1.5,"f":2.8},{"p":241,"d":"2016-01-07","v":3,"e":1.5,"f":2.9},{"p":241,"d":"2016-02-24","v":0.5,"e":1.5,"f":3},{"p":241,"d":"2016-04-12","v":13.5,"e":2,"f":3.2},{"p":241,"d":"2016-05-30","v":5.5,"e":1.5,"f":3.5},{"p":241,"d":"2016-07-05","v":3.5,"e":1.5,"f":3.8},{"p":241,"d":"2016-08-10","v":9,"e":2,"f":4},{"p":241,"d":"2016-09-15","v":3,"e":1.5,"f":4.1},{"p":241,"d":"2016-10-21","v":4.5,"e":1.5,"f":4.2},{"p":241,"d":"2016-11-20","v":4.5,"e":1.5,"f":4.2},{"p":241,"d":"2016-12-20","v":2,"e":1.5,"f":4.3},{"p":241,"d":"2017-01-19","v":4.5,"e":1.5,"f":4.3},{"p":241,"d":"2017-02-18","v":3,"e":1.5,"f":4.4},{"p":241,"d":"2017-03-20","v":4,"e":1.5,"f":4.6},{"p":241,"d":"2017-04-19","v":5,"e":1.5,"f":5.1},{"p":241,"d":"2017-05-19","v":1,"e":3,"f":5.8},{"p":241,"d":"2017-06-12","v":5,"e":5,"f":6.3},{"p":241,"d":"2017-07-06","v":32,"e":8,"f":6.7},{"p":241,"d":"2017-07-30","v":4,"e":5,"f":6.9},{"p":241,"d":"2017-08-23","v":10,"e":2,"f":7},{"p":241,"d":"2017-09-16","v":7,"e":2,"f":7.1},{"p":241,"d":"2017-10-10","v":8,"e":2,"f":7.1},{"p":241,"d":"2017-11-03","v":7,"e":1.5,"f":7.2},{"p":241,"d":"2017-11-27","v":7,"e":1.5,"f":7.2},{"p":241,"d":"2017-12-21","v":10,"e":1.5,"f":7.2},{"p":241,"d":"2018-01-14","v":5,"e":1.5,"f":7.2},{"p":241,"d":"2018-02-07","v":5.5,"e":1.5,"f":7.2},{"p":241,"d":"2018-03-03","v":7,"e":1.5,"f":7.2},{"p":241,"d":"2018-03-27","v":5,"e":1.5,"f":7.2},{"p":241,"d":"2018-04-20","v":1,"e":2,"f":7.2},{"p":241,"d":"2018-05-14","v":10.5,"e":2,"f":7.2},{"p":241,"d":"2018-06-07","v":6,"e":2,"f":7.2},{"p":241,"d":"2018-07-13","v":8,"e":2,"f":7.2},
{"p":241,"d":"2016-01-20","v":0,"e":3.5},{"p":241,"d":"2017-05-10","v":8.5,"e":4},{"p":241,"d":"2017-06-05","v":0,"e":4},{"p":241,"d":"2018-06-28","v":11,"e":2.5},
{"p":242,"d":"2014-10-20","v":5,"e":1.5,"f":2},{"p":242,"d":"2014-11-01","v":2,"e":0.8,"f":2.1},{"p":242,"d":"2014-11-13","v":1.5,"e":0.8,"f":2.2},{"p":242,"d":"2014-12-07","v":3,"e":0.8,"f":2.4},{"p":242,"d":"2015-01-24","v":2,"e":0.8,"f":2.7},{"p":242,"d":"2015-03-13","v":5.5,"e":1,"f":3},{"p":242,"d":"2015-04-18","v":3.5,"e":1.5,"f":3.2},{"p":242,"d":"2015-05-24","v":8,"e":1.5,"f":3.4},{"p":242,"d":"2015-06-29","v":3,"e":1.5,"f":3.5},{"p":242,"d":"2015-08-16","v":10,"e":1,"f":3.6},{"p":242,"d":"2015-10-03","v":6,"e":1.5,"f":3.7},{"p":242,"d":"2015-11-20","v":2,"e":1.5,"f":3.8},{"p":242,"d":"2016-01-07","v":3,"e":1.5,"f":3.9},{"p":242,"d":"2016-02-24","v":1.5,"e":1.5,"f":4},{"p":242,"d":"2016-04-12","v":17,"e":2,"f":4.5},{"p":242,"d":"2016-05-30","v":1.5,"e":2,"f":5.4},{"p":242,"d":"2016-07-05","v":5,"e":1.5,"f":5.8},{"p":242,"d":"2016-08-10","v":6,"e":1.5,"f":6},{"p":242,"d":"2016-09-15","v":7,"e":1.5,"f":6},{"p":242,"d":"2016-10-21","v":6,"e":1.5,"f":6},{"p":242,"d":"2016-11-20","v":8,"e":1.5,"f":6},{"p":242,"d":"2016-12-20","v":7,"e":1.5,"f":6},{"p":242,"d":"2017-01-19","v":0.5,"e":3,"f":6.1},{"p":242,"d":"2017-02-18","v":4,"e":1.5,"f":6.6},{"p":242,"d":"2017-03-20","v":7,"e":1.5,"f":7.8},{"p":242,"d":"2017-04-19","v":2.5,"e":2,"f":9.1},{"p":242,"d":"2017-05-19","v":13.5,"e":2.5,"f":10.1},{"p":242,"d":"2017-06-12","v":8,"e":3,"f":10.6},{"p":242,"d":"2017-07-06","v":2,"e":2,"f":10.8},{"p":242,"d":"2017-07-30","v":5.5,"e":2,"f":10.9},{"p":242,"d":"2017-08-23","v":10.5,"e":2,"f":11},{"p":242,"d":"2017-09-16","v":12,"e":2,"f":11},{"p":242,"d":"2017-10-10","v":14,"e":2,"f":11},{"p":242,"d":"2017-11-03","v":12,"e":1.5,"f":11},{"p":242,"d":"2017-11-27","v":13,"e":1.5,"f":11},{"p":242,"d":"2017-12-21","v":10,"e":1.5,"f":11},{"p":242,"d":"2018-01-14","v":12,"e":1.5,"f":11},{"p":242,"d":"2018-02-07","v":11,"e":1.5,"f":11.1},{"p":242,"d":"2018-03-03","v":10,"e":1.5,"f":11.2},{"p":242,"d":"2018-03-27","v":12.5,"e":1.5,"f":11.3},{"p":242,"d":"2018-04-20","v":3.5,"e":2,"f":11.4},{"p":242,"d":"2018-05-14","v":13,"e":1.5,"f":11.5},{"p":242,"d":"2018-06-07","v":11.5,"e":1.5,"f":11.6},{"p":242,"d":"2018-07-13","v":10.5,"e":3,"f":11.8},
{"p":242,"d":"2017-06-25","v":33,"e":6},{"p":242,"d":"2018-06-28","v":17,"e":3},{"p":242,"d":"2016-04-25","v":6.5,"e":1.5},
{"p":243,"d":"2014-10-20","v":3,"e":1,"f":1.3},{"p":243,"d":"2014-11-01","v":1.5,"e":0.8,"f":1.4},{"p":243,"d":"2014-11-13","v":1.5,"e":0.8,"f":1.5},{"p":243,"d":"2014-12-07","v":2,"e":0.8,"f":1.7},{"p":243,"d":"2015-01-24","v":1,"e":0.8,"f":2.1},{"p":243,"d":"2015-03-13","v":4,"e":1,"f":2.5},{"p":243,"d":"2015-04-18","v":2.5,"e":1.5,"f":2.8},{"p":243,"d":"2015-05-24","v":3.5,"e":1.5,"f":3},{"p":243,"d":"2015-06-29","v":6,"e":1.5,"f":3.1},{"p":243,"d":"2015-08-16","v":0,"e":4,"f":3.3},{"p":243,"d":"2015-10-03","v":7,"e":1.5,"f":3.4},{"p":243,"d":"2015-11-20","v":1.5,"e":1.5,"f":3.5},{"p":243,"d":"2016-01-07","v":4,"e":1.5,"f":3.5},{"p":243,"d":"2016-02-24","v":5.5,"e":1.5,"f":3.8},{"p":243,"d":"2016-04-12","v":1,"e":1.5,"f":4.7},{"p":243,"d":"2016-05-30","v":2,"e":4,"f":5.6},{"p":243,"d":"2016-07-05","v":6,"e":1.5,"f":5.9},{"p":243,"d":"2016-08-10","v":7.5,"e":1.5,"f":6},{"p":243,"d":"2016-09-15","v":6,"e":1.5,"f":6},{"p":243,"d":"2016-10-21","v":6.5,"e":1.5,"f":6.1},{"p":243,"d":"2016-11-20","v":8,"e":1.5,"f":6.1},{"p":243,"d":"2016-12-20","v":7,"e":1.5,"f":6.2},{"p":243,"d":"2017-01-19","v":0,"e":2,"f":6.4},{"p":243,"d":"2017-02-18","v":5.5,"e":1.5,"f":6.9},{"p":243,"d":"2017-03-20","v":7,"e":1.5,"f":7.7},{"p":243,"d":"2017-04-19","v":8,"e":1.5,"f":8.7},{"p":243,"d":"2017-05-19","v":11,"e":4,"f":9.8},{"p":243,"d":"2017-06-12","v":5.5,"e":3,"f":10.5},{"p":243,"d":"2017-07-06","v":14,"e":3,"f":10.9},{"p":243,"d":"2017-07-30","v":2,"e":3,"f":11},{"p":243,"d":"2017-08-23","v":11.5,"e":2,"f":11},{"p":243,"d":"2017-09-16","v":13,"e":2,"f":11},{"p":243,"d":"2017-10-10","v":11,"e":1.5,"f":11},{"p":243,"d":"2017-11-03","v":13,"e":1.5,"f":11},{"p":243,"d":"2017-11-27","v":7,"e":1.5,"f":11},{"p":243,"d":"2017-12-21","v":11,"e":1.5,"f":11},{"p":243,"d":"2018-01-14","v":13.5,"e":1.5,"f":11.1},{"p":243,"d":"2018-02-07","v":9,"e":1.5,"f":11.2},{"p":243,"d":"2018-03-03","v":10,"e":1.5,"f":11.3},{"p":243,"d":"2018-03-27","v":11,"e":1.5,"f":11.5},{"p":243,"d":"2018-04-20","v":8,"e":2,"f":11.6},{"p":243,"d":"2018-05-14","v":6.5,"e":2,"f":11.7},{"p":243,"d":"2018-06-07","v":9.5,"e":2,"f":11.8},{"p":243,"d":"2018-07-13","v":9,"e":4,"f":12},
{"p":243,"d":"2015-05-10","v":7,"e":3},{"p":243,"d":"2017-06-25","v":17,"e":3},{"p":243,"d":"2017-06-18","v":31,"e":5},{"p":243,"d":"2018-06-28","v":19,"e":3.5},{"p":243,"d":"2016-02-20","v":3,"e":1.5},
{"p":244,"d":"2014-10-20","v":0.5,"e":1,"f":0.2},{"p":244,"d":"2014-11-01","v":0.5,"e":0.8,"f":0.3},{"p":244,"d":"2014-11-13","v":0,"e":0.8,"f":0.5},{"p":244,"d":"2014-12-07","v":1,"e":0.8,"f":0.9},{"p":244,"d":"2015-01-24","v":1,"e":0.8,"f":1.7},{"p":244,"d":"2015-03-13","v":3,"e":1,"f":2.7},{"p":244,"d":"2015-04-18","v":9,"e":3,"f":3.5},{"p":244,"d":"2015-05-24","v":5,"e":1.5,"f":4.2},{"p":244,"d":"2015-06-29","v":7.5,"e":1.5,"f":4.7},{"p":244,"d":"2015-08-16","v":6,"e":1.5,"f":5},{"p":244,"d":"2015-10-03","v":4.5,"e":1.5,"f":5.1},{"p":244,"d":"2015-11-20","v":4.5,"e":1.5,"f":5.2},{"p":244,"d":"2016-01-07","v":6,"e":1.5,"f":5.3},{"p":244,"d":"2016-02-24","v":1.5,"e":1.5,"f":5.5},{"p":244,"d":"2016-04-12","v":7,"e":1.5,"f":5.8},{"p":244,"d":"2016-05-30","v":1,"e":5,"f":6.1},{"p":244,"d":"2016-07-05","v":8.5,"e":1.5,"f":6.4},{"p":244,"d":"2016-08-10","v":8,"e":1.5,"f":6.8},{"p":244,"d":"2016-09-15","v":9.5,"e":1.5,"f":7.2},{"p":244,"d":"2016-10-21","v":3.5,"e":1.5,"f":7.6},{"p":244,"d":"2016-11-20","v":9.5,"e":1.5,"f":8},{"p":244,"d":"2016-12-20","v":9,"e":1.5,"f":8.4},{"p":244,"d":"2017-01-19","v":10,"e":1.5,"f":8.8},{"p":244,"d":"2017-02-18","v":9,"e":1.5,"f":9.2},{"p":244,"d":"2017-03-20","v":7.5,"e":2,"f":9.8},{"p":244,"d":"2017-04-19","v":5,"e":2,"f":10.6},{"p":244,"d":"2017-05-19","v":17.5,"e":3,"f":11.5},{"p":244,"d":"2017-06-12","v":16,"e":3,"f":12},{"p":244,"d":"2017-07-06","v":0.5,"e":2,"f":12.3},{"p":244,"d":"2017-07-30","v":13,"e":2,"f":12.4},{"p":244,"d":"2017-08-23","v":16,"e":2,"f":12.5},{"p":244,"d":"2017-09-16","v":14,"e":2,"f":12.5},{"p":244,"d":"2017-10-10","v":13,"e":1.5,"f":12.5},{"p":244,"d":"2017-11-03","v":12.5,"e":1.5,"f":12.5},{"p":244,"d":"2017-11-27","v":15,"e":1.5,"f":12.5},{"p":244,"d":"2017-12-21","v":12,"e":1.5,"f":12.6},{"p":244,"d":"2018-01-14","v":13,"e":1.5,"f":12.7},{"p":244,"d":"2018-02-07","v":11,"e":1.5,"f":12.8},{"p":244,"d":"2018-03-03","v":12,"e":1.5,"f":13},{"p":244,"d":"2018-03-27","v":14,"e":1.5,"f":13.1},{"p":244,"d":"2018-04-20","v":8.5,"e":2,"f":13.2},{"p":244,"d":"2018-05-14","v":14,"e":2,"f":13.4},{"p":244,"d":"2018-06-07","v":13,"e":2,"f":13.5},{"p":244,"d":"2018-07-13","v":11.5,"e":3,"f":13.7},
{"p":244,"d":"2016-01-20","v":18.5,"e":4},{"p":244,"d":"2018-06-28","v":18.5,"e":3},{"p":244,"d":"2017-06-20","v":3,"e":2}
]},
"data":{"name":"pts"},
"transform":[{"lookup":"p","from":{"data":{"name":"names"},"key":"p","fields":["n"]}}],
"spacing":13,
"vconcat":[
{"transform":[{"filter":"datum.p < 243"}],
"facet":{"field":"p","type":"ordinal","header":{"labels":false,"title":null,"labelExpr":"''","labelFontSize":1,"labelPadding":0}},
"columns":2,"spacing":{"column":68,"row":28},"bounds":"flush",
"resolve":{"axis":{"x":"independent","y":"independent"}},
"spec":{"width":556,"height":136,"layer":[
{"mark":{"type":"errorbar","color":"#2458a8","thickness":1.2,"clip":true},
"encoding":{"x":{"field":"d","type":"temporal","scale":{"domain":[{"year":2014,"month":8,"date":2},{"year":2018,"month":9,"date":26}],"nice":false},"axis":{"title":null,"labels":false,"values":[{"year":2014,"month":12,"date":1},{"year":2015,"month":6,"date":1},{"year":2015,"month":12,"date":1},{"year":2016,"month":6,"date":1},{"year":2016,"month":12,"date":1},{"year":2017,"month":6,"date":1},{"year":2017,"month":12,"date":1},{"year":2018,"month":6,"date":1}]}},
"y":{"field":"v","type":"quantitative","scale":{"domain":[-4.9,35],"nice":false,"zero":false},"axis":{"title":null,"values":[0,20]}},
"yError":{"field":"e"}}},
{"mark":{"type":"point","filled":true,"size":14,"color":"#2458a8","opacity":1,"clip":true},"encoding":{"x":{"field":"d","type":"temporal"},"y":{"field":"v","type":"quantitative"}}},
{"transform":[{"filter":"isValid(datum.f)"}],"mark":{"type":"line","color":"#ffa500","strokeWidth":4.5,"opacity":0.85,"interpolate":"monotone"},"encoding":{"x":{"field":"d","type":"temporal"},"y":{"field":"f","type":"quantitative"}}},
{"transform":[{"aggregate":[{"op":"count","as":"c"}],"groupby":["p","n"]}],
"layer":[
{"mark":{"type":"rect","fill":"white","fillOpacity":0.8,"stroke":"#cccccc","strokeWidth":2,"cornerRadius":5},"encoding":{"x":{"datum":{"year":2014,"month":9,"date":3},"type":"temporal"},"x2":{"datum":{"year":2016,"month":4,"date":18}},"y":{"datum":31.6,"type":"quantitative"},"y2":{"datum":19.1}}},
{"mark":{"type":"rule","color":"#2458a8","strokeWidth":1.2},"encoding":{"x":{"datum":{"year":2014,"month":12,"date":5},"type":"temporal"},"y":{"datum":29.1,"type":"quantitative"},"y2":{"datum":22.3}}},
{"mark":{"type":"point","filled":true,"size":14,"color":"#2458a8","opacity":1},"encoding":{"x":{"datum":{"year":2014,"month":12,"date":5},"type":"temporal"},"y":{"datum":25.7,"type":"quantitative"}}},
{"mark":{"type":"text","align":"left","baseline":"middle","fontSize":23.5,"color":"#222222","font":"DejaVu Sans"},"encoding":{"x":{"datum":{"year":2015,"month":4,"date":7},"type":"temporal"},"y":{"datum":25.7,"type":"quantitative"},"text":{"field":"n"}}}
]}
]}},
{"transform":[{"filter":"datum.p >= 243"}],
"facet":{"field":"p","type":"ordinal","header":{"labels":false,"title":null,"labelExpr":"''","labelFontSize":1,"labelPadding":0}},
"columns":2,"spacing":{"column":68,"row":28},"bounds":"flush",
"resolve":{"axis":{"x":"independent","y":"independent"}},
"spec":{"width":556,"height":136,"layer":[
{"mark":{"type":"errorbar","color":"#2458a8","thickness":1.2,"clip":true},
"encoding":{"x":{"field":"d","type":"temporal","scale":{"domain":[{"year":2014,"month":8,"date":2},{"year":2018,"month":9,"date":26}],"nice":false},"axis":{"title":null,"format":"%Y-%m","labelAngle":-45,"labelAlign":"center","labelBaseline":"middle","labelPadding":45,"labelFlush":false,"labelOverlap":false,"values":[{"year":2014,"month":12,"date":1},{"year":2015,"month":6,"date":1},{"year":2015,"month":12,"date":1},{"year":2016,"month":6,"date":1},{"year":2016,"month":12,"date":1},{"year":2017,"month":6,"date":1},{"year":2017,"month":12,"date":1},{"year":2018,"month":6,"date":1}]}},
"y":{"field":"v","type":"quantitative","scale":{"domain":[-4.9,35],"nice":false,"zero":false},"axis":{"title":null,"values":[0,20]}},
"yError":{"field":"e"}}},
{"mark":{"type":"point","filled":true,"size":14,"color":"#2458a8","opacity":1,"clip":true},"encoding":{"x":{"field":"d","type":"temporal"},"y":{"field":"v","type":"quantitative"}}},
{"transform":[{"filter":"isValid(datum.f)"}],"mark":{"type":"line","color":"#ffa500","strokeWidth":4.5,"opacity":0.85,"interpolate":"monotone"},"encoding":{"x":{"field":"d","type":"temporal"},"y":{"field":"f","type":"quantitative"}}},
{"transform":[{"aggregate":[{"op":"count","as":"c"}],"groupby":["p","n"]}],
"layer":[
{"mark":{"type":"rect","fill":"white","fillOpacity":0.8,"stroke":"#cccccc","strokeWidth":2,"cornerRadius":5},"encoding":{"x":{"datum":{"year":2014,"month":9,"date":3},"type":"temporal"},"x2":{"datum":{"year":2016,"month":4,"date":18}},"y":{"datum":31.6,"type":"quantitative"},"y2":{"datum":19.1}}},
{"mark":{"type":"rule","color":"#2458a8","strokeWidth":1.2},"encoding":{"x":{"datum":{"year":2014,"month":12,"date":5},"type":"temporal"},"y":{"datum":29.1,"type":"quantitative"},"y2":{"datum":22.3}}},
{"mark":{"type":"point","filled":true,"size":14,"color":"#2458a8","opacity":1},"encoding":{"x":{"datum":{"year":2014,"month":12,"date":5},"type":"temporal"},"y":{"datum":25.7,"type":"quantitative"}}},
{"mark":{"type":"text","align":"left","baseline":"middle","fontSize":23.5,"color":"#222222","font":"DejaVu Sans"},"encoding":{"x":{"datum":{"year":2015,"month":4,"date":7},"type":"temporal"},"y":{"datum":25.7,"type":"quantitative"},"text":{"field":"n"}}}
]}
]}}
],
"config":{"font":"DejaVu Sans","view":{"stroke":"#222222","strokeWidth":1.6},
"header":{"labels":false,"labelFontSize":1,"labelPadding":0},
"axis":{"domain":false,"grid":false,"ticks":true,"tickColor":"#222222","tickWidth":1.6,"tickSize":7,"labelFont":"DejaVu Sans","labelFontSize":23.5,"labelColor":"#222222"},
"axisY":{"labelPadding":8}}
}
